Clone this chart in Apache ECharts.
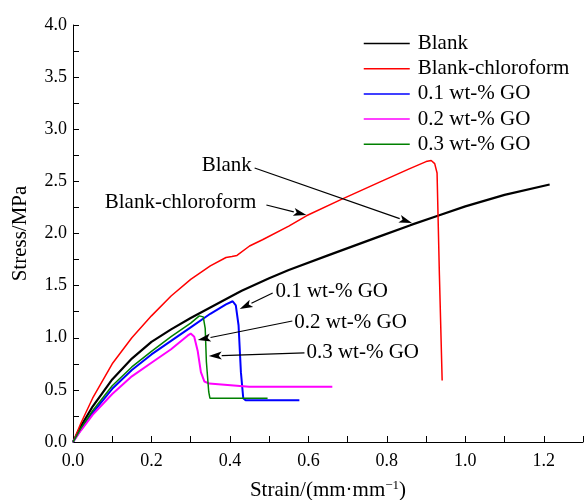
<!DOCTYPE html>
<html>
<head>
<meta charset="utf-8">
<script src="https://cdn.jsdelivr.net/npm/echarts@6/dist/echarts.min.js"></script>
<style>html,body{margin:0;padding:0;background:#fff;}#c{width:584px;height:500px;}</style>
</head>
<body>
<div id="c"></div>
<script>
var seriesNames = ['Blank', 'Blank-chloroform', '0.1 wt-% GO', '0.2 wt-% GO', '0.3 wt-% GO'];
var seriesColors = ['#000000', '#ff0000', '#0000ff', '#ff00ff', '#008000'];

var blank = [[0,0],[0.02,0.15],[0.05,0.34],[0.1,0.60],[0.15,0.80],[0.2,0.96],[0.25,1.08],[0.3,1.19],[0.35,1.29],[0.4,1.39],[0.43,1.45],[0.5,1.57],[0.55,1.65],[0.65,1.79],[0.78,1.97],[0.86,2.08],[0.93,2.17],[1.0,2.26],[1.1,2.37],[1.215,2.47]];
var blankChloroform = [[0,0],[0.02,0.18],[0.05,0.42],[0.1,0.75],[0.15,1.00],[0.2,1.21],[0.25,1.40],[0.3,1.56],[0.35,1.69],[0.39,1.77],[0.405,1.78],[0.418,1.79],[0.45,1.88],[0.483,1.94],[0.55,2.07],[0.595,2.17],[0.68,2.32],[0.78,2.49],[0.857,2.62],[0.9,2.69],[0.913,2.70],[0.922,2.67],[0.928,2.58],[0.934,1.60],[0.941,0.59]];
var go01 = [[0,0],[0.02,0.12],[0.05,0.28],[0.1,0.51],[0.15,0.69],[0.2,0.84],[0.25,0.97],[0.3,1.10],[0.35,1.23],[0.39,1.32],[0.407,1.35],[0.415,1.31],[0.422,1.12],[0.428,0.67],[0.434,0.42],[0.44,0.40],[0.5,0.40],[0.577,0.40]];
var go02 = [[0,0],[0.02,0.11],[0.05,0.26],[0.1,0.46],[0.15,0.63],[0.2,0.76],[0.25,0.89],[0.292,1.02],[0.30,1.04],[0.309,1.01],[0.318,0.87],[0.326,0.67],[0.335,0.58],[0.347,0.56],[0.449,0.53],[0.55,0.53],[0.661,0.53]];
var go03 = [[0,0],[0.02,0.13],[0.05,0.30],[0.1,0.54],[0.15,0.72],[0.2,0.87],[0.25,1.01],[0.3,1.14],[0.322,1.21],[0.332,1.20],[0.337,1.09],[0.34,0.77],[0.346,0.48],[0.349,0.42],[0.4,0.42],[0.496,0.42]];
var seriesData = [blank, blankChloroform, go01, go02, go03];
var seriesWidths = [2.2, 1.5, 2, 2, 1.5];

var xTicks = [0, 0.2, 0.4, 0.6, 0.8, 1.0, 1.2];
var yTicks = [0, 0.5, 1.0, 1.5, 2.0, 2.5, 3.0, 3.5, 4.0];

var annotationTexts = ['Blank', 'Blank-chloroform', '0.1 wt-% GO', '0.2 wt-% GO', '0.3 wt-% GO'];
var annotationTextPos = [[0.328,2.657],[0.081,2.293],[0.516,1.439],[0.564,1.151],[0.595,0.863]];
var arrowFrom = [[0.463,2.628],[0.493,2.273],[0.509,1.429],[0.559,1.161],[0.590,0.854]];
var arrowTo = [[0.864,2.101],[0.595,2.177],[0.425,1.276],[0.318,0.978],[0.346,0.825]];

var FONT = 'Liberation Serif';
var chart = echarts.init(document.getElementById('c'), null, {renderer: 'canvas'});

function isTick(v, list) {
  for (var i = 0; i < list.length; i++) if (Math.abs(v - list[i]) < 1e-6) return true;
  return false;
}

var series = seriesNames.map(function (n, i) {
  return {
    name: n, type: 'line', data: seriesData[i], symbol: 'none', showSymbol: false, smooth: false,
    lineStyle: {color: seriesColors[i], width: seriesWidths[i]},
    itemStyle: {color: seriesColors[i]},
    z: 2 + i
  };
});

chart.setOption({
  animation: false,
  backgroundColor: '#ffffff',
  grid: {left: 73, right: 1, top: 25, bottom: 58, outerBoundsMode: 'none', containLabel: false},
  legend: {
    show: true,
    orient: 'vertical', left: 363, top: 33, padding: 0,
    itemWidth: 46, itemHeight: 21, itemGap: 4.2,
    data: seriesNames,
    itemStyle: {opacity: 0},
    textStyle: {fontFamily: FONT, fontSize: 21, color: '#000', lineHeight: 21, padding: [0,0,0,3]},
    lineStyle: {width: 1.5}
  },
  xAxis: {
    type: 'value', min: 0, max: 1.3, interval: 0.1,
    name: 'Strain/(mm·mm{sup|−1})', nameLocation: 'middle', nameGap: 37,
    nameTextStyle: {fontFamily: FONT, fontSize: 21, color: '#000',
      rich: {sup: {fontFamily: FONT, fontSize: 13, color: '#000', verticalAlign: 'top', padding: [0,0,10,0]}}},
    axisLine: {show: true, lineStyle: {color: '#000', width: 1}},
    axisTick: {show: true, inside: true, length: 6, lineStyle: {color: '#000'}},
    axisLabel: {fontFamily: FONT, fontSize: 18, color: '#000', margin: 10,
      formatter: function (v) { return isTick(v, xTicks) ? v.toFixed(1) : ''; }},
    splitLine: {show: false}
  },
  yAxis: {
    type: 'value', min: 0, max: 4, interval: 0.25,
    name: 'Stress/MPa', nameLocation: 'middle', nameGap: 42,
    nameTextStyle: {fontFamily: FONT, fontSize: 21, color: '#000'},
    axisLine: {show: true, lineStyle: {color: '#000', width: 1}},
    axisTick: {show: true, inside: true, length: 6, lineStyle: {color: '#000'}},
    axisLabel: {fontFamily: FONT, fontSize: 18, color: '#000', margin: 6,
      formatter: function (v) { return isTick(v, yTicks) ? v.toFixed(1) : ''; }},
    splitLine: {show: false}
  },
  series: series
});

var graphics = [];
for (var i = 0; i < annotationTexts.length; i++) {
  var tp = chart.convertToPixel({gridIndex: 0}, annotationTextPos[i]);
  graphics.push({type: 'text', x: tp[0], y: tp[1], z: 100,
    style: {text: annotationTexts[i], fill: '#000', font: '21px "' + FONT + '"', textAlign: 'left', textVerticalAlign: 'middle'}});
  var a = chart.convertToPixel({gridIndex: 0}, arrowFrom[i]);
  var b = chart.convertToPixel({gridIndex: 0}, arrowTo[i]);
  var dx = b[0] - a[0], dy = b[1] - a[1], L = Math.sqrt(dx*dx + dy*dy);
  var ux = dx / L, uy = dy / L, hl = 13, hw = 4;
  var bx = b[0] - ux * hl, by = b[1] - uy * hl;
  graphics.push({type: 'line', z: 100, shape: {x1: a[0], y1: a[1], x2: bx, y2: by}, style: {stroke: '#000', lineWidth: 1.2}});
  graphics.push({type: 'polygon', z: 100, shape: {points: [[b[0], b[1]], [bx - uy*hw, by + ux*hw], [bx + ux*3, by + uy*3], [bx + uy*hw, by - ux*hw]]}, style: {fill: '#000'}});
}
chart.setOption({graphic: graphics});
</script>
</body>
</html>
